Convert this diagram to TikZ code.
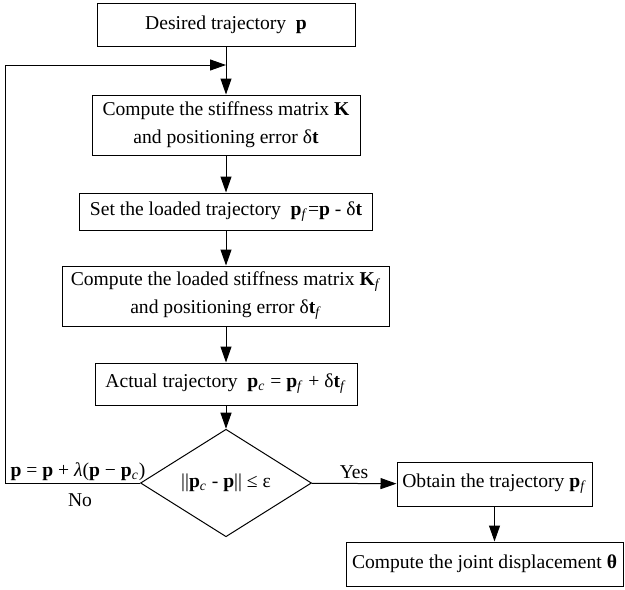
\documentclass[tikz,border=0pt]{standalone}
\usepackage{fontspec}
\setmainfont{Liberation Serif}
\usetikzlibrary{shapes.geometric,arrows.meta}

\tikzstyle{block} = [rectangle, draw, line width=0.5pt, align=center, inner sep=0mm, font=\fontsize{9.8}{14}\selectfont]
\tikzstyle{decide} = [diamond, draw, line width=0.5pt, inner sep=0mm, font=\fontsize{9.8}{14}\selectfont]
\tikzstyle{line} = [draw, line width=0.5pt, -{Triangle[length=8pt, width=5.5pt]}]
\tikzstyle{tag} = [inner sep=0mm, font=\fontsize{9.8}{14}\selectfont]

\begin{document}
\begin{tikzpicture}[x=0.5pt, y=-0.5pt]
		\useasboundingbox (0,0) rectangle (625,589);
		%main column
		\node[block, minimum width=129pt, minimum height=21.5pt] (des) at (226,24.5) {Desired trajectory~~\textbf{p}};
		\node[block, minimum width=134pt, minimum height=30pt] (k) at (226,125) {Compute the stiffness matrix \textbf{K}\\ and positioning error δ\textbf{t}};
		\node[block, minimum width=146.5pt, minimum height=18.5pt] (pf) at (226,211.5) {Set the loaded trajectory~~\textbf{p}\textsubscript{\textit{f}}=\textbf{p} - δ\textbf{t}};
		\node[block, minimum width=163.5pt, minimum height=30pt] (kf) at (226,296) {Compute the loaded stiffness matrix \textbf{K}\textsubscript{\textit{f}}\\ and positioning error δ\textbf{t}\textsubscript{\textit{f}}};
		\node[block, minimum width=131pt, minimum height=21pt] (pc) at (226,384) {Actual trajectory~~\textbf{p}\textsubscript{\textit{c}} = \textbf{p}\textsubscript{\textit{f}} + δ\textbf{t}\textsubscript{\textit{f}}};
		\node[decide, minimum width=85.5pt, minimum height=40pt] (dia) at (226,483) {||\textbf{p}\textsubscript{\textit{c}} - \textbf{p}|| ≤ ε};
		\node[block, minimum width=97.5pt, minimum height=22pt] (obt) at (494.5,484) {Obtain the trajectory \textbf{p}\textsubscript{\textit{f}}};
		\node[block, minimum width=138.5pt, minimum height=22pt] (fin) at (484.5,564) {Compute the joint displacement \textbf{θ}};

		\foreach \a/\b in {des/k, k/pf, pf/kf, kf/pc, pc/dia}
		\path[line] (\a) -- (\b);
		\path[line] (dia) -- node[tag, above=2pt] {Yes} (obt);
		\path[line] (obt) -- (obt |- fin.north);

		%feedback loop
		\coordinate (c1) at (5,483);
		\coordinate (c2) at (5,65);
		\coordinate (join) at (226,65);
		\path[line] (dia.west) -- (c1) -- (c2) -- (join);
		\node[tag] (upd) at (78,472) {\textbf{p} = \textbf{p} + \textit{λ}(\textbf{p} − \textbf{p}\textsubscript{\textit{c}})};
		\node[tag] (no) at (80,500) {No};
	\end{tikzpicture}
\end{document}
